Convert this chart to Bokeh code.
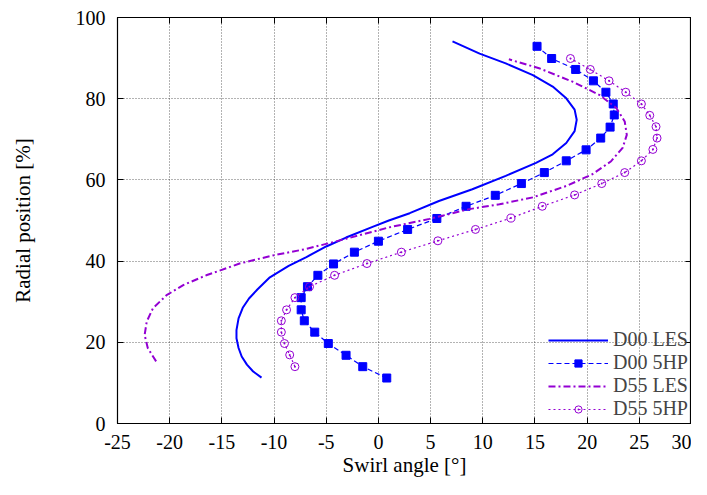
from bokeh.plotting import figure
from bokeh.models import Range1d, SingleIntervalTicker, LinearAxis, CustomJSTickFormatter
from bokeh.embed import file_html
from bokeh.resources import INLINE

# ---- data ----
d00_les_x = [-11.2, -12.0, -12.6, -13.1, -13.4, -13.6, -13.6, -13.4, -13.0, -12.4, -11.6, -10.4, -8.6,
             -6.9, -5.0, -3.1, -0.5, 1.0, 3.0, 5.8, 9.0, 12.2, 15.1, 16.7, 18.0, 18.8, 19.0, 18.8,
             18.0, 16.7, 14.8, 12.2, 9.7, 7.1]
d00_les_y = [11.3, 12.8, 14.5, 16.5, 18.6, 21.0, 23.0, 25.9, 28.5, 30.8, 33.0, 36.0, 38.8,
             41.0, 43.6, 45.8, 48.5, 50.0, 51.8, 54.8, 57.7, 61.0, 64.2, 66.3, 69.1, 72.0, 74.8, 77.3,
             80.1, 83.0, 85.8, 88.7, 91.1, 94.1]

d00_5hp_x = [0.8, -1.5, -3.1, -4.8, -6.1, -7.1, -7.4, -7.4, -6.8, -5.8, -4.3, -2.3, 0.0, 2.8, 5.6,
             8.4, 11.2, 13.7, 15.9, 18.0, 19.9, 21.3, 22.2, 22.6, 22.5, 21.8, 20.6, 18.9, 16.6, 15.2]
d00_5hp_y = [11.2, 14.0, 16.8, 19.7, 22.5, 25.3, 28.0, 31.0, 33.7, 36.5, 39.3, 42.2, 44.9, 47.8, 50.5,
             53.5, 56.2, 59.1, 61.8, 64.7, 67.4, 70.3, 73.0, 76.0, 78.7, 81.6, 84.4, 87.2, 89.9, 92.9]

d55_les_x = [-21.3, -22.1, -22.4, -22.2, -21.6, -20.3, -18.7, -16.5, -13.3, -10.1, -6.9, -3.1, 1.0,
             4.9, 8.7, 11.6, 14.8, 18.0, 20.5, 22.3, 23.4, 23.8, 23.6, 22.8, 21.2, 18.6, 15.4, 12.5]
d55_les_y = [15.3, 18.6, 21.8, 25.1, 28.4, 31.6, 34.1, 36.5, 39.4, 41.4, 43.0, 45.5, 48.3,
             50.4, 52.8, 54.0, 55.7, 58.5, 61.4, 64.6, 67.9, 71.1, 74.4, 77.7, 80.9, 84.2, 87.5, 89.7]

d55_5hp_x = [-8.0, -8.5, -9.0, -9.3, -9.3, -8.8, -8.0, -6.6, -4.2, -1.1, 2.2, 5.7, 9.3, 12.7,
             15.7, 18.8, 21.4, 23.6, 25.2, 26.3, 26.7, 26.6, 26.0, 25.2, 23.7, 22.1, 20.3, 18.4]
d55_5hp_y = [14.0, 16.9, 19.7, 22.5, 25.3, 28.0, 31.0, 33.7, 36.5, 39.4, 42.2, 45.0, 47.8, 50.6,
             53.5, 56.3, 59.1, 61.8, 64.7, 67.5, 70.3, 73.1, 75.9, 78.7, 81.6, 84.4, 87.2, 89.9]

x_label = "Swirl angle [°]"
y_label = "Radial position [%]"

BLUE = "#0000ff"
VIOLET = "#9400d3"
FONT = "'Liberation Serif'"

p = figure(width=691, height=479, output_backend="svg", toolbar_location=None,
           x_range=Range1d(-25, 30), y_range=Range1d(0, 100),
           min_border_left=117, min_border_right=0, min_border_top=17, min_border_bottom=53)

p.outline_line_color = "black"
p.outline_line_width = 1.2

xt = SingleIntervalTicker(interval=5)
yt = SingleIntervalTicker(interval=20)
plain = CustomJSTickFormatter(code="return tick.toFixed(0)")
p.xaxis.ticker = xt
p.yaxis.ticker = yt
p.xaxis.formatter = plain
p.yaxis.formatter = plain
p.xgrid.ticker = xt
p.ygrid.ticker = yt
for g in (p.xgrid, p.ygrid):
    g.grid_line_color = "#000000"
    g.grid_line_alpha = 0.6
    g.grid_line_dash = "1 2"
    g.grid_line_width = 1

for ax in (p.xaxis, p.yaxis):
    ax.major_tick_in = 6
    ax.major_tick_out = 0
    ax.minor_tick_in = 0
    ax.minor_tick_out = 0
    ax.axis_line_color = "black"
    ax.major_label_text_font = FONT
    ax.major_label_text_font_size = "20px"
    ax.major_label_text_color = "black"
    ax.axis_label_text_font = FONT
    ax.axis_label_text_font_size = "21px"
    ax.axis_label_text_font_style = "normal"
    ax.axis_label_text_color = "black"

p.xaxis.axis_label = x_label
p.yaxis.axis_label = y_label
p.xaxis.major_label_standoff = 11
p.yaxis.major_label_standoff = 12
p.xaxis.axis_label_standoff = 1
p.yaxis.axis_label_standoff = 38

# mirror ticks (top and right), without labels
blank = CustomJSTickFormatter(code="return ''")
for loc, tk in (("above", xt), ("right", yt)):
    ax = LinearAxis(ticker=tk, formatter=blank, major_tick_in=6, major_tick_out=0,
                    minor_tick_in=0, minor_tick_out=0, major_label_standoff=0,
                    major_label_text_font_size="1px", axis_line_color=None)
    p.add_layout(ax, loc)

p.line(d00_les_x, d00_les_y, line_color=BLUE, line_width=2, legend_label="D00 LES")
p.line(d00_5hp_x, d00_5hp_y, line_color=BLUE, line_width=1.2, line_dash="5 3", legend_label="D00 5HP")
p.scatter(d00_5hp_x, d00_5hp_y, marker="square", size=8, fill_color=BLUE, line_color=BLUE,
          legend_label="D00 5HP")
p.line(d55_les_x, d55_les_y, line_color=VIOLET, line_width=2, line_dash="7 3 2 3", legend_label="D55 LES")
p.line(d55_5hp_x, d55_5hp_y, line_color=VIOLET, line_width=1.2, line_dash="2 3", legend_label="D55 5HP")
p.scatter(d55_5hp_x, d55_5hp_y, marker="circle_dot", size=8, fill_color=None, line_color=VIOLET,
          line_width=1, legend_label="D55 5HP")

lg = p.legend[0]
lg.location = "bottom_right"
lg.background_fill_alpha = 0
lg.border_line_color = None
lg.label_text_font = FONT
lg.label_text_font_size = "20px"
lg.glyph_width = 60
lg.glyph_height = 18
lg.label_height = 18
lg.spacing = 0
lg.margin = 3
lg.padding = 8

open("out.html", "w").write(file_html(p, INLINE))
